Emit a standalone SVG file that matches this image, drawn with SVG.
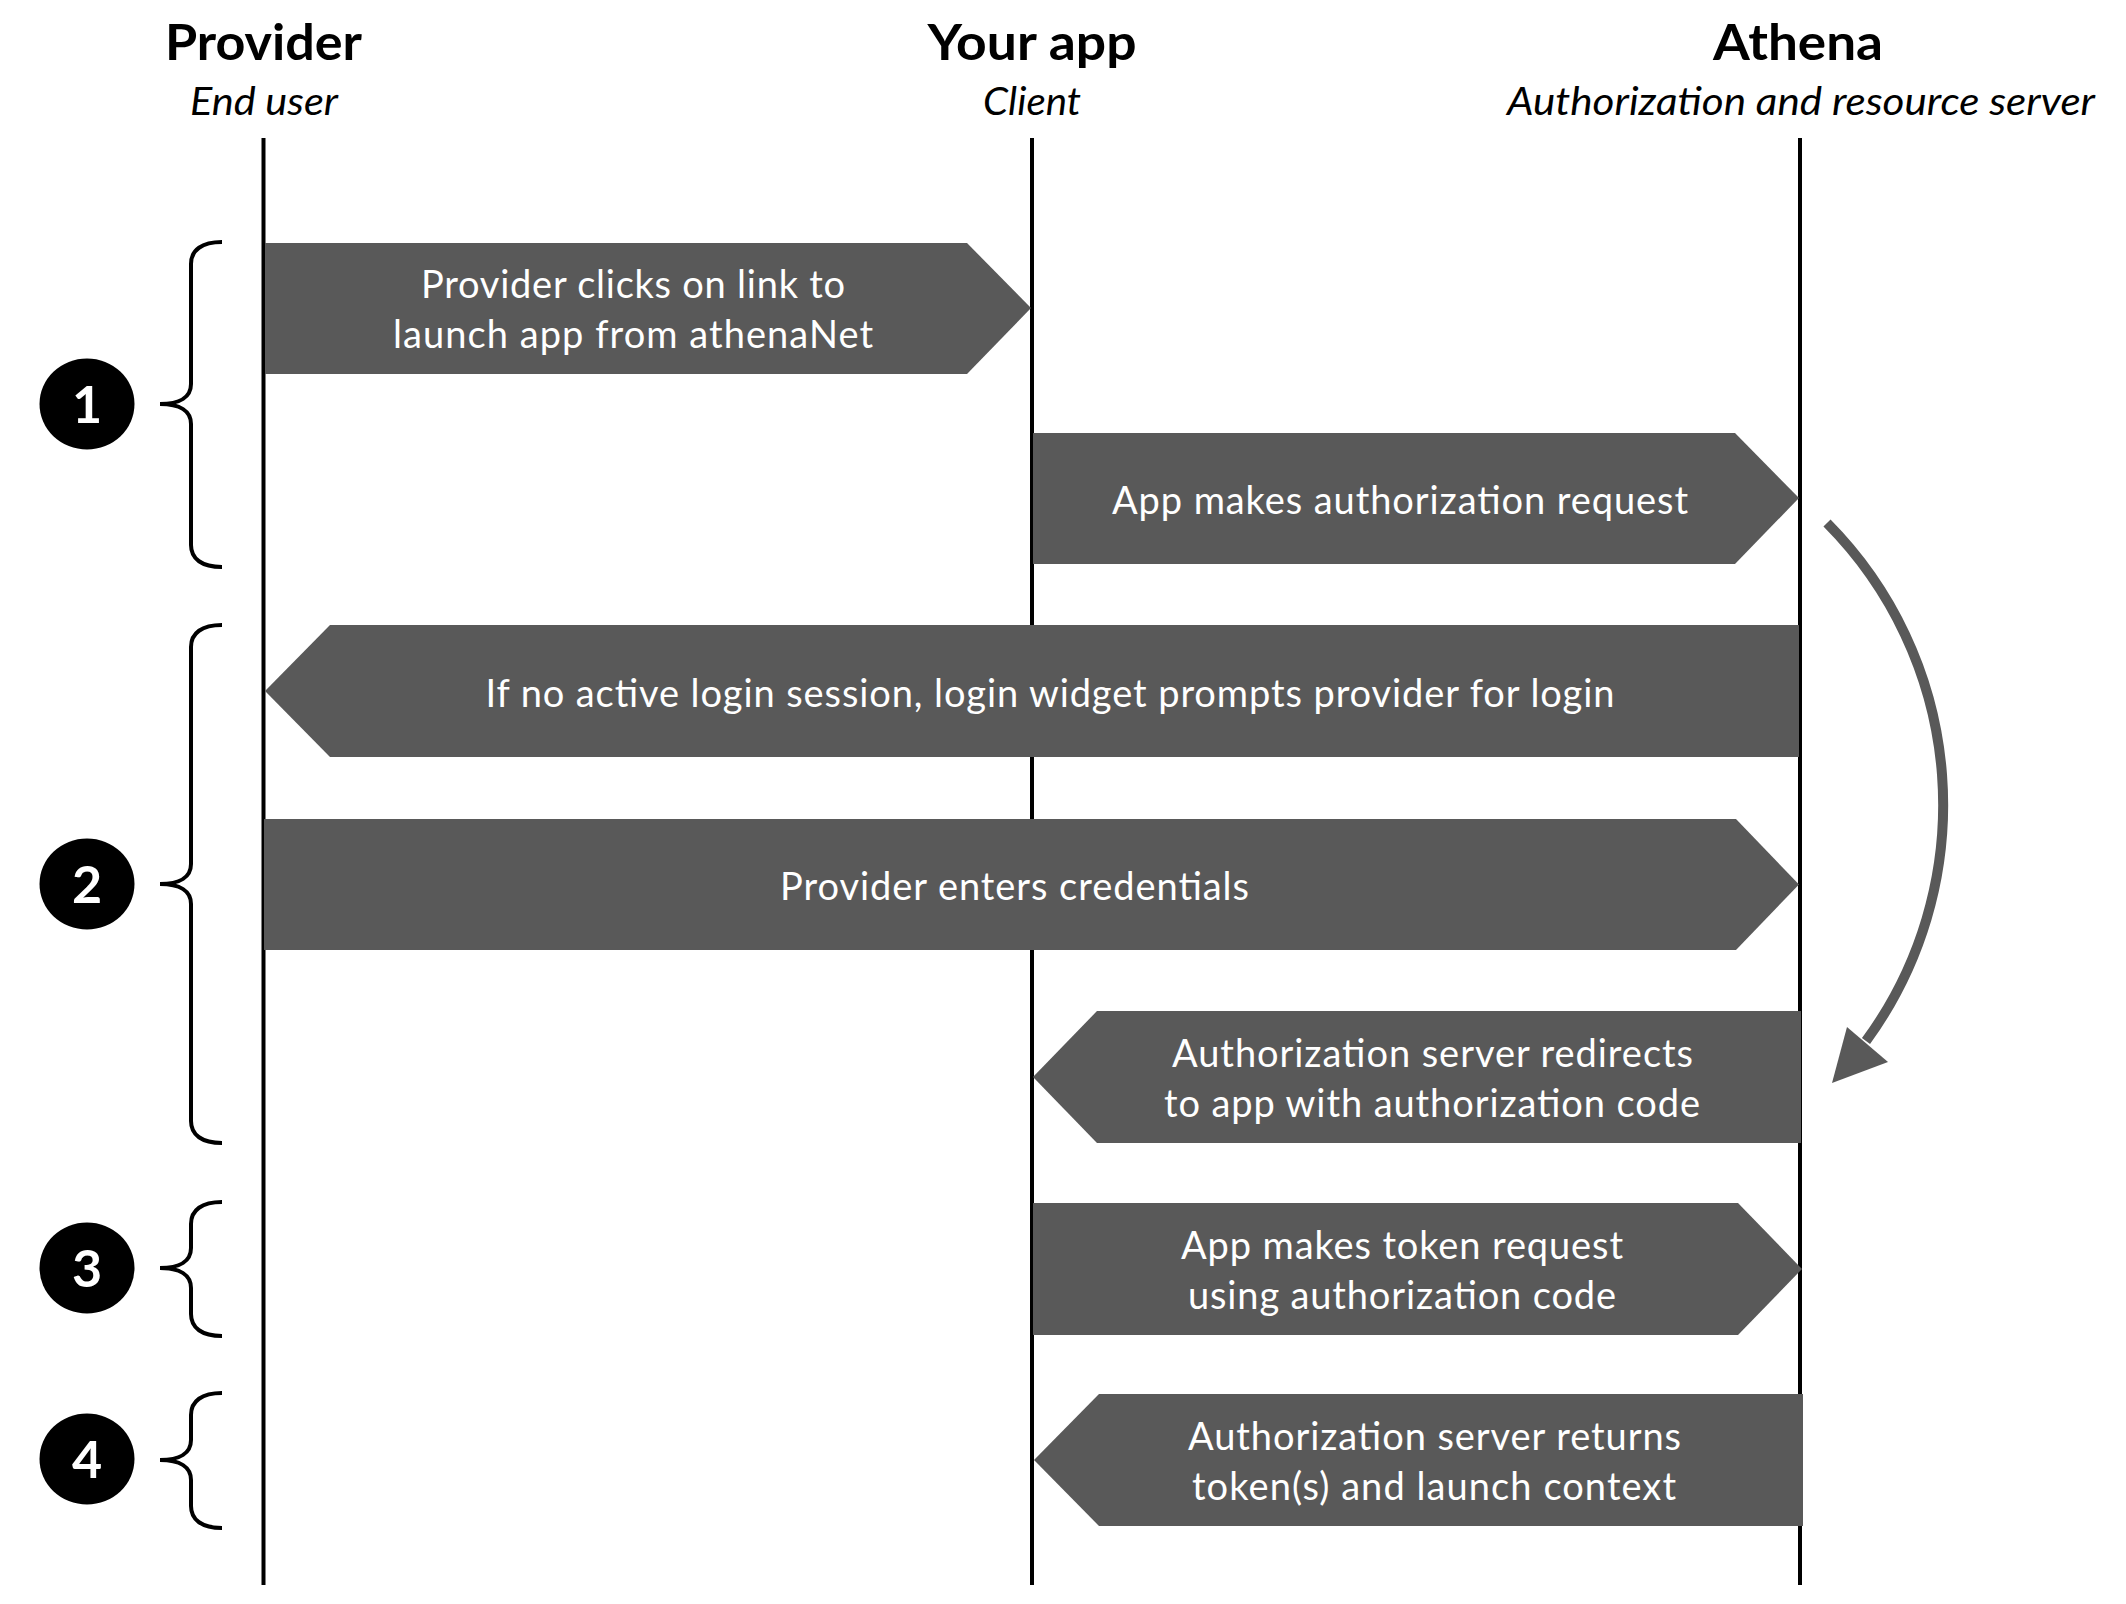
<svg xmlns="http://www.w3.org/2000/svg" width="2126" height="1604" viewBox="0 0 2126 1604">
<style>
.hdr{font-family:Lato,"Open Sans",sans-serif;font-weight:bold;font-size:50px;fill:#000;text-anchor:middle}
.sub{font-family:Lato,"Open Sans",sans-serif;font-style:italic;font-size:38px;fill:#000;text-anchor:middle}
.box{fill:#595959}
.bt{font-family:Lato,"Open Sans",sans-serif;font-size:38px;fill:#fff;text-anchor:middle}
.life{stroke:#000;stroke-width:4;fill:none}
.brace{stroke:#000;stroke-width:4;fill:none}
.num{fill:#000}
.nt{font-family:Lato,"Open Sans",sans-serif;font-weight:bold;font-size:52px;fill:#fff;text-anchor:middle}
.curve{stroke:#595959;stroke-width:10;fill:none}
</style>
<rect width="2126" height="1604" fill="#fff"/>
<g id="headers">
<text class="hdr" x="263.5" y="60" textLength="197" lengthAdjust="spacingAndGlyphs">Provider</text>
<text class="sub" x="264" y="115" textLength="148" lengthAdjust="spacingAndGlyphs">End user</text>
<text class="hdr" x="1032" y="60" textLength="209" lengthAdjust="spacingAndGlyphs">Your app</text>
<text class="sub" x="1032" y="115" textLength="98" lengthAdjust="spacingAndGlyphs">Client</text>
<text class="hdr" x="1798" y="60" textLength="170" lengthAdjust="spacingAndGlyphs">Athena</text>
<text class="sub" x="1801" y="115" textLength="588" lengthAdjust="spacingAndGlyphs">Authorization and resource server</text>
</g>
<g id="lifelines">
<line class="life" x1="263.5" y1="138" x2="263.5" y2="1585"/>
<line class="life" x1="1032" y1="138" x2="1032" y2="1585"/>
<line class="life" x1="1800" y1="138" x2="1800" y2="1585"/>
</g>
<g id="step1">
<path class="brace" d="M222,242 C202,242 191,250 191,264 L191,384 C191,397 180,404 160,404 C180,404 191,411 191,424 L191,545 C191,559 202,567 222,567"/>
<ellipse class="num" cx="87" cy="404" rx="47.5" ry="45.5"/>
<text class="nt" x="87" y="423">1</text>
</g>
<g id="step2">
<path class="brace" d="M222,625 C202,625 191,633 191,647 L191,864 C191,877 180,884 160,884 C180,884 191,891 191,904 L191,1121 C191,1135 202,1143 222,1143"/>
<ellipse class="num" cx="87" cy="884" rx="47.5" ry="45.5"/>
<text class="nt" x="87" y="903">2</text>
</g>
<g id="step3">
<path class="brace" d="M222,1202 C202,1202 191,1210 191,1224 L191,1248 C191,1261 180,1268 160,1268 C180,1268 191,1275 191,1288 L191,1314 C191,1328 202,1336 222,1336"/>
<ellipse class="num" cx="87" cy="1268" rx="47.5" ry="45.5"/>
<text class="nt" x="87" y="1287">3</text>
</g>
<g id="step4">
<path class="brace" d="M222,1393 C202,1393 191,1401 191,1415 L191,1440 C191,1453 180,1460 160,1460 C180,1460 191,1467 191,1480 L191,1506 C191,1520 202,1528 222,1528"/>
<ellipse class="num" cx="87" cy="1459" rx="47.5" ry="45.5"/>
<text class="nt" x="87" y="1478">4</text>
</g>
<g id="msg1">
<polygon class="box" points="265,243 967,243 1031,308 967,374 265,374"/>
<text class="bt" x="633" y="298" textLength="424">Provider clicks on link to</text>
<text class="bt" x="633" y="348" textLength="480">launch app from athenaNet</text>
</g>
<g id="msg2">
<polygon class="box" points="1033,433 1735,433 1799,498 1735,564 1033,564"/>
<text class="bt" x="1400" y="514" textLength="576">App makes authorization request</text>
</g>
<g id="msg3">
<polygon class="box" points="265,691 330,625 1799,625 1799,757 330,757"/>
<text class="bt" x="1050" y="707" textLength="1129">If no active login session, login widget prompts provider for login</text>
</g>
<g id="msg4">
<polygon class="box" points="264,819 1736,819 1799,884.5 1736,950 264,950"/>
<text class="bt" x="1014.5" y="900" textLength="469">Provider enters credentials</text>
</g>
<g id="msg5">
<polygon class="box" points="1033,1077 1097,1011 1801,1011 1801,1143 1097,1143"/>
<text class="bt" x="1432.5" y="1067" textLength="521">Authorization server redirects</text>
<text class="bt" x="1432" y="1117" textLength="536">to app with authorization code</text>
</g>
<g id="msg6">
<polygon class="box" points="1033,1203 1738,1203 1802,1269 1738,1335 1033,1335"/>
<text class="bt" x="1402" y="1259" textLength="442">App makes token request</text>
<text class="bt" x="1402" y="1309" textLength="428">using authorization code</text>
</g>
<g id="msg7">
<polygon class="box" points="1034,1460 1099,1394 1803,1394 1803,1526 1099,1526"/>
<text class="bt" x="1434.5" y="1450" textLength="493">Authorization server returns</text>
<text class="bt" x="1434" y="1500" textLength="484">token(s) and launch context</text>
</g>
<g id="connectors">
<path class="curve" d="M1827,523 A400,400 0 0 1 1866,1041"/>
<polygon fill="#595959" points="1847,1027 1888,1062 1832,1083"/>
</g>
</svg>
